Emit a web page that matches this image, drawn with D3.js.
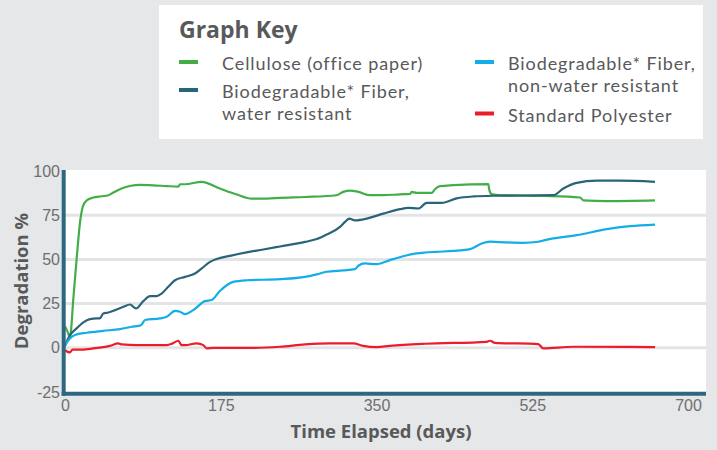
<!DOCTYPE html>
<html>
<head>
<meta charset="utf-8">
<script src="https://cdn.jsdelivr.net/npm/d3@7"></script>
<style>
  body { margin: 0; background: #e6e7e8; }
  svg { display: block; font-family: "Open Sans", sans-serif; }
  .tick text { fill: #6d6e71; font-size: 16px; }
  .title { fill: #58595b; font-weight: bold; }
  .keytext { fill: #58595b; font-size: 18px; font-family: Lato, sans-serif; letter-spacing: 0.9px; }
</style>
</head>
<body>
<div id="chart"></div>
<script>
// [day, degradation %]
const cellulose = [[0,12],[3,9],[5.6,6],[9.4,28],[13.1,50.5],[16.9,71],[19.8,79.5],[24.4,83.4],[31.8,85],[41.2,85.7],[48.7,86.3],[54.3,87.8],[63.7,90.1],[73,91.5],[84.3,92.1],[99.2,91.9],[114.2,91.5],[127.3,91.2],[129.2,92.5],[134.8,92.5],[153.6,93.9],[174,90.1],[193,86.7],[209.8,84.4],[226.6,84.4],[241.6,84.8],[269.7,85.3],[305,86.3],[312.7,88.2],[320,88.9],[329.6,88.2],[342.7,86.3],[357.6,86.3],[376.4,86.8],[387.6,87],[389.5,88.2],[395.2,87.6],[412,87.6],[415.7,89.7],[421.3,91.4],[436.3,92],[475.6,92.6],[476.8,89.2],[479.4,86.9],[488.8,86.3],[539.3,85.9],[578.7,85],[582.4,83.4],[608.6,83],[662.9,83.4]];
const waterResistant = [[0,1],[1.9,3.4],[5.6,7.2],[13,11],[20.6,14.4],[28,16.2],[35.6,16.6],[39,16.6],[43,19.4],[48.7,20],[56.2,21.3],[65.5,23.2],[73,24.5],[79.8,22.3],[88,26.4],[95.5,29.2],[103,29.2],[108.6,30.7],[116,34.5],[123.6,38.2],[134.8,40.1],[146,42],[153.6,44.9],[163,48.6],[170.4,50.2],[185.4,52],[204,54],[222.8,55.6],[241.6,57.3],[269.7,59.9],[282.8,61.5],[294,64.1],[309,68.4],[314.6,71.2],[319.5,73.1],[325.8,72.1],[339,73.1],[357.6,75.9],[376.4,78.4],[385.7,79.1],[397,78.8],[406.4,82],[423.3,82],[440,84.5],[458.8,85.6],[481,86],[548.7,86.3],[559.9,90.1],[575,93.3],[597.4,94.5],[623,94.5],[662.9,93.9]];
const nonWaterResistant = [[0,1.5],[5.6,5.3],[11.2,7.2],[24.4,8.5],[43,9.6],[61.8,10.6],[74.9,11.9],[85.4,12.8],[89.9,15.7],[106.7,16.6],[114.2,17.5],[123.6,20.9],[129.2,20.4],[134.8,19],[144,21.3],[157.3,26.4],[164.8,27],[174,32.1],[189,37.3],[204,38.2],[241.6,38.8],[269.7,40.1],[282.8,41.5],[294,43],[312.7,43.8],[325.8,44.5],[329.6,46.4],[337,47.7],[350.2,47.3],[365,49.6],[380,51.8],[395,53.4],[404.5,53.9],[417.6,54.3],[436.3,54.8],[455,55.8],[468.2,59],[477.5,60],[496.3,59.6],[515,59.4],[531.8,60],[539.3,60.9],[548.7,61.9],[575,63.7],[608.6,67.1],[634.8,68.8],[663,69.7]];
const polyester = [[0,-1.3],[3,-2.3],[5.5,-2.6],[8.5,-1],[20,-1],[31.8,-0.3],[50.6,1.1],[59.9,2.5],[63.7,1.9],[80.5,1.5],[114.2,1.5],[121,2.5],[127.3,4],[131,1.5],[134.8,1.5],[148,2.5],[155.4,1.5],[159.2,-0.3],[166.6,0],[211.6,0],[241.6,0.6],[269.7,1.9],[297.8,2.5],[324,2.5],[335,1.1],[350.2,0.4],[365,1.1],[404.5,2.3],[473.8,3.4],[477.5,4],[483,2.8],[531.8,2.1],[537.4,-0.3],[571,0.6],[663,0.4]];

const xTicks = [0, 175, 350, 525, 700];
const yTicks = [-25, 0, 25, 50, 75, 100];
const gridValues = [0, 25, 50, 75];

const seriesNames = ["Cellulose (office paper)", "Biodegradable* Fiber,\nwater resistant",
                     "Biodegradable* Fiber,\nnon-water resistant", "Standard Polyester"];
const seriesColors = ["#43ad4a", "#2a6479", "#13aee6", "#ec1c2a"];
const seriesData = [cellulose, waterResistant, nonWaterResistant, polyester];

const width = 717, height = 450;
const plotLeft = 64, plotRight = 706, plotTop = 170, plotBottom = 393;
const axisColor = "#2d6880";

let svg = d3.select("#chart").append("svg")
  .attr("width", width)
  .attr("height", height);

svg.append("rect").attr("width", width).attr("height", height).attr("fill", "#e6e7e8");

let x = d3.scaleLinear().domain([0, 700]).range([65, 688]);
let y = d3.scaleLinear().domain([-25, 100]).range([392, 171]);

//plot background
svg.append("rect")
  .attr("x", plotLeft).attr("y", plotTop)
  .attr("width", plotRight - plotLeft).attr("height", plotBottom - plotTop)
  .attr("fill", "#fff");

//gridlines
svg.selectAll(".grid").data(gridValues).enter()
  .append("line")
  .attr("class", "grid")
  .attr("x1", plotLeft).attr("x2", plotRight)
  .attr("y1", d => y(d)).attr("y2", d => y(d))
  .attr("stroke", "#e3e4e5")
  .attr("stroke-width", 3);

//series lines
let line = d3.line()
  .x(d => x(d[0]))
  .y(d => y(d[1]))
  .curve(d3.curveMonotoneX);

svg.selectAll(".series").data(seriesData).enter()
  .append("path")
  .attr("class", "series")
  .attr("d", line)
  .attr("fill", "none")
  .attr("stroke", (d, i) => seriesColors[i])
  .attr("stroke-width", 2.2)
  .attr("stroke-linejoin", "round");

//axis lines
svg.append("line")
  .attr("x1", 63.7).attr("x2", 63.7).attr("y1", plotTop).attr("y2", 395.7)
  .attr("stroke", axisColor).attr("stroke-width", 4);
svg.append("line")
  .attr("x1", 61.7).attr("x2", plotRight).attr("y1", 393.7).attr("y2", 393.7)
  .attr("stroke", axisColor).attr("stroke-width", 4);

//tick labels
let yAxis = d3.axisLeft(y).tickValues(yTicks).tickSize(0).tickPadding(4)
  .tickFormat(d => String(d));
svg.append("g")
  .attr("transform", `translate(${plotLeft},0)`)
  .call(yAxis)
  .call(g => g.select(".domain").remove())
  .selectAll("text").attr("font-family", null).attr("font-size", null);

let xAxis = d3.axisBottom(x).tickValues(xTicks).tickSize(0).tickPadding(5);
svg.append("g")
  .attr("transform", `translate(0,395)`)
  .call(xAxis)
  .call(g => g.select(".domain").remove())
  .selectAll("text").attr("font-family", null).attr("font-size", null);

//axis titles
svg.append("text")
  .attr("class", "title")
  .attr("transform", "translate(28,281) rotate(-90)")
  .attr("text-anchor", "middle")
  .attr("font-size", 18.5)
  .text("Degradation %");

svg.append("text")
  .attr("class", "title")
  .attr("x", 381).attr("y", 438)
  .attr("text-anchor", "middle")
  .attr("font-size", 18.5)
  .text("Time Elapsed (days)");

//graph key
svg.append("rect")
  .attr("x", 159).attr("y", 5)
  .attr("width", 544).attr("height", 134)
  .attr("fill", "#fff");

svg.append("text")
  .attr("class", "title")
  .attr("x", 179).attr("y", 38)
  .attr("font-size", 23)
  .text("Graph Key");

let keyPos = [[179, 70], [179, 98], [475, 70], [475, 121.5]];
let key = svg.selectAll(".key").data(seriesNames).enter()
  .append("g")
  .attr("class", "key")
  .attr("transform", (d, i) => `translate(${keyPos[i][0]},${keyPos[i][1]})`);

key.append("rect")
  .attr("x", 0).attr("y", -10)
  .attr("width", 19).attr("height", 4)
  .attr("fill", (d, i) => seriesColors[i]);

key.append("text")
  .attr("class", "keytext")
  .attr("x", (d, i) => i < 2 ? 43 : 33)
  .selectAll("tspan")
  .data(d => d.split("\n"))
  .enter()
  .append("tspan")
  .attr("x", function() { return this.parentNode.getAttribute("x"); })
  .attr("dy", (d, i) => i == 0 ? 0 : 21.6)
  .text(d => d);
</script>
</body>
</html>
